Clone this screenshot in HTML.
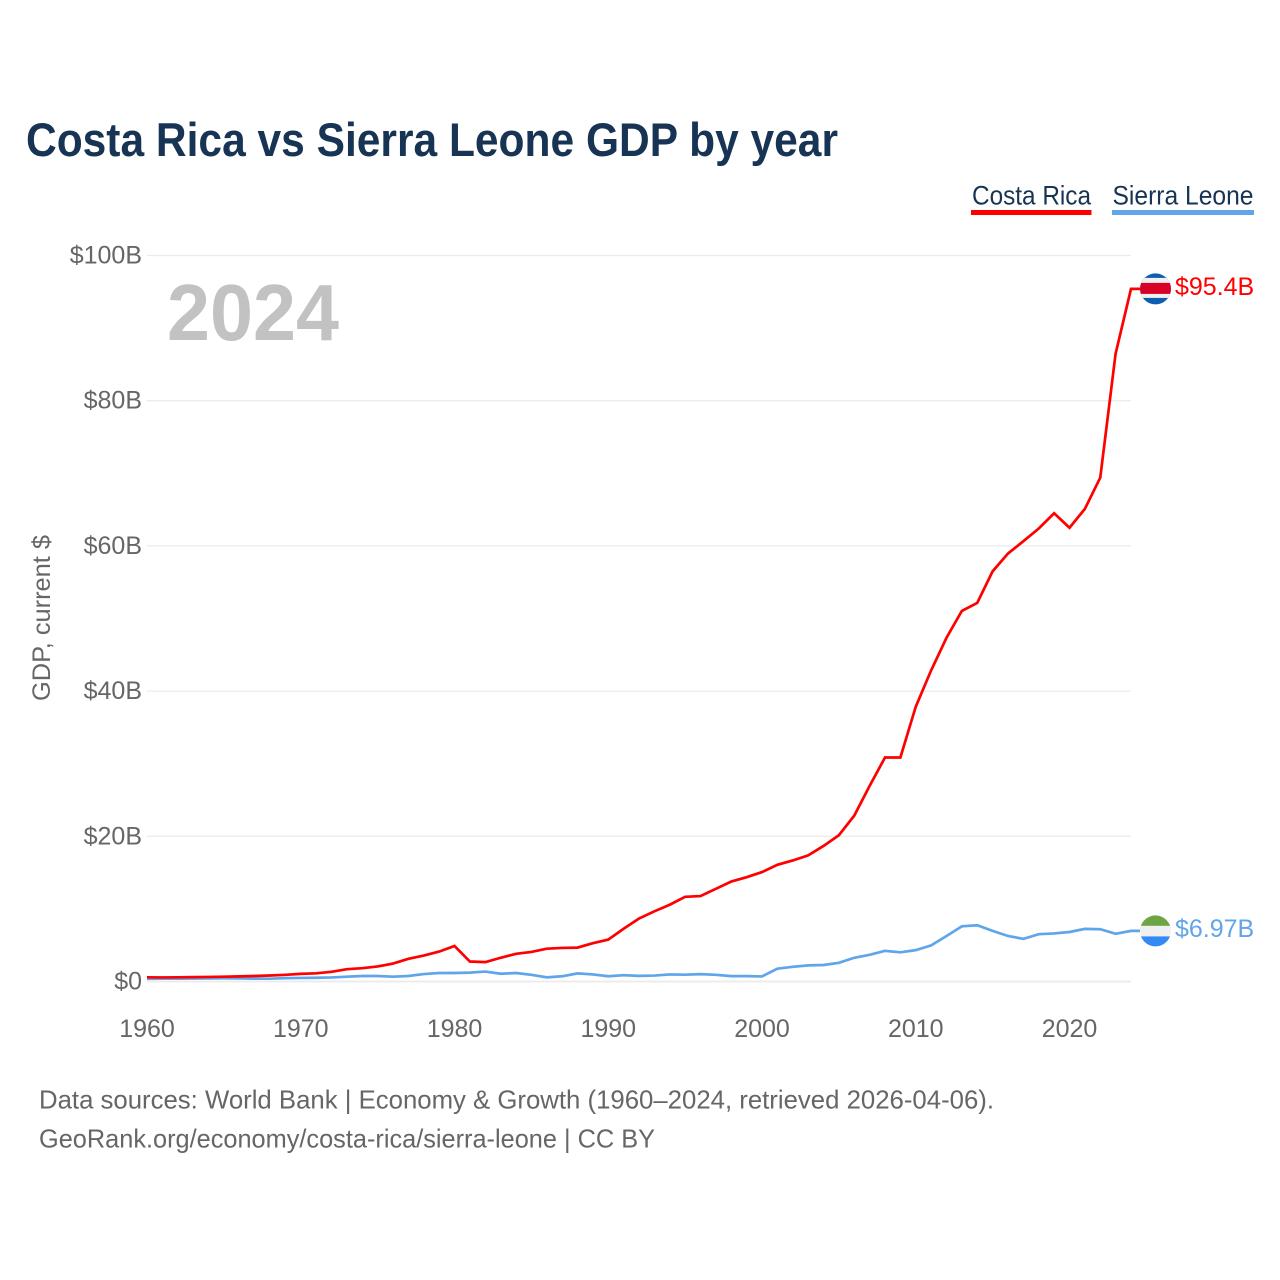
<!DOCTYPE html>
<html lang="en">
<head>
<meta charset="utf-8">
<title>Costa Rica vs Sierra Leone GDP by year</title>
<style>
html,body{margin:0;padding:0;background:#fff;}
svg{display:block;font-family:"Liberation Sans",sans-serif;}
</style>
</head>
<body>
<svg id="chart" width="1280" height="1280" viewBox="0 0 1280 1280" xmlns="http://www.w3.org/2000/svg">
  <defs>
    <clipPath id="flag-clip-cr"><circle cx="0" cy="0" r="15.5"/></clipPath>
    <clipPath id="flag-clip-sl"><circle cx="0" cy="0" r="15.5"/></clipPath>
  </defs>
  <rect x="0" y="0" width="1280" height="1280" fill="#fff"/>
  <text x="26" y="156" font-size="47" font-weight="700" fill="#173454" textLength="812" lengthAdjust="spacingAndGlyphs">Costa Rica vs Sierra Leone GDP by year</text>

  <g>
    <g>
      <text x="972" y="204.5" font-size="27" fill="#173454" textLength="119" lengthAdjust="spacingAndGlyphs">Costa Rica</text>
      <rect x="971" y="210" width="120.5" height="5" fill="#ff0000"/>
    </g>
    <g>
      <text x="1112.5" y="204.5" font-size="27" fill="#173454" textLength="141" lengthAdjust="spacingAndGlyphs">Sierra Leone</text>
      <rect x="1112" y="210" width="142" height="5" fill="#60a5ea"/>
    </g>
  </g>

  <g id="grid"></g>
  <g id="y-axis"></g>
  <g id="x-axis"></g>

  <text x="167" y="340" font-size="80" font-weight="700" fill="#c2c2c2" textLength="172" lengthAdjust="spacingAndGlyphs">2024</text>
  <text transform="translate(50,618) rotate(-90)" text-anchor="middle" font-size="25" fill="#666" textLength="166" lengthAdjust="spacingAndGlyphs">GDP, current $</text>

  <g id="series"></g>

  <g id="flag-cr">
    <g clip-path="url(#flag-clip-cr)">
      <rect x="-16" y="-16" width="32" height="32" fill="#0f5db0"/>
      <rect x="-16" y="-11" width="32" height="20" fill="#f0f0f0"/>
      <rect x="-16" y="-6" width="32" height="11" fill="#d80027"/>
    </g>
  </g>
  <g id="flag-sl">
    <g clip-path="url(#flag-clip-sl)">
      <rect x="-16" y="-16" width="32" height="11" fill="#6da544"/>
      <rect x="-16" y="-5" width="32" height="10.5" fill="#f0f0f0"/>
      <rect x="-16" y="5.5" width="32" height="11" fill="#338af3"/>
    </g>
  </g>
  <text id="value-cr" x="1175" font-size="25" fill="#ff0000"></text>
  <text id="value-sl" x="1175" font-size="25" fill="#60a5ea"></text>

  <g>
    <text x="39" y="1108.5" font-size="26" fill="#666" textLength="955" lengthAdjust="spacingAndGlyphs">Data sources: World Bank | Economy &amp; Growth (1960–2024, retrieved 2026-04-06).</text>
    <text x="39" y="1147.5" font-size="26" fill="#666" textLength="616" lengthAdjust="spacingAndGlyphs">GeoRank.org/economy/costa-rica/sierra-leone | CC BY</text>
  </g>
</svg>
<script>
const firstYear = 1960;
const costaRicaGdp = [0.58,0.56,0.58,0.6,0.63,0.66,0.71,0.76,0.83,0.92,1.05,1.13,1.33,1.7,1.83,2.07,2.47,3.12,3.57,4.12,4.9,2.75,2.67,3.27,3.82,4.07,4.52,4.62,4.67,5.27,5.77,7.27,8.67,9.67,10.57,11.67,11.77,12.77,13.77,14.37,15.07,16.07,16.67,17.37,18.67,20.15,22.85,26.95,30.85,30.85,37.85,42.85,47.35,51.05,52.15,56.5,58.95,60.65,62.4,64.5,62.5,65.1,69.4,86.5,95.4];
const sierraLeoneGdp = [0.38,0.39,0.4,0.41,0.42,0.44,0.42,0.4,0.39,0.46,0.49,0.52,0.56,0.66,0.76,0.76,0.66,0.76,1.02,1.17,1.17,1.22,1.37,1.07,1.17,0.92,0.57,0.72,1.12,0.97,0.72,0.87,0.77,0.82,0.97,0.94,1.02,0.92,0.74,0.74,0.7,1.77,2.02,2.22,2.27,2.57,3.27,3.67,4.22,4.02,4.32,4.97,6.27,7.6,7.75,6.97,6.27,5.87,6.52,6.62,6.82,7.25,7.2,6.57,6.97];
const yTickValues = [0,20,40,60,80,100];
const yTickLabels = ["$0","$20B","$40B","$60B","$80B","$100B"];
const xTickValues = [1960,1970,1980,1990,2000,2010,2020];
const endValueLabels = ["$95.4B","$6.97B"];

const NS = "http://www.w3.org/2000/svg";
const plotLeft = 147, plotRight = 1131, plotTop = 255.5, plotBottom = 981.5;
const lastYear = firstYear + costaRicaGdp.length - 1;
function xScale(year){ return plotLeft + (year - firstYear) * (plotRight - plotLeft) / (lastYear - firstYear); }
function yScale(v){ return plotBottom - v * (plotBottom - plotTop) / 100; }

const grid = document.getElementById("grid");
const yAxis = document.getElementById("y-axis");
const xAxis = document.getElementById("x-axis");
const series = document.getElementById("series");

yTickValues.forEach(function(v, i){
  const line = document.createElementNS(NS, "line");
  
  
  line.setAttribute("x1", plotLeft);
  line.setAttribute("x2", plotRight);
  line.setAttribute("y1", yScale(v));
  line.setAttribute("y2", yScale(v));
  line.setAttribute("stroke", "#ececec");
  line.setAttribute("stroke-width", v === 0 ? 2 : 1.3);
  grid.appendChild(line);

  const t = document.createElementNS(NS, "text");
  
  
  t.setAttribute("x", 142);
  t.setAttribute("y", yScale(v) + 8);
  t.setAttribute("text-anchor", "end");
  t.setAttribute("font-size", 25);
  t.setAttribute("fill", "#666");
  t.textContent = yTickLabels[i];
  yAxis.appendChild(t);
});

xTickValues.forEach(function(year){
  const t = document.createElementNS(NS, "text");
  
  
  t.setAttribute("x", xScale(year));
  t.setAttribute("y", 1037);
  t.setAttribute("text-anchor", "middle");
  t.setAttribute("font-size", 25);
  t.setAttribute("fill", "#666");
  t.textContent = year;
  xAxis.appendChild(t);
});

function linePath(values){
  let d = values.map(function(v, i){
    return (i ? "L" : "M") + xScale(firstYear + i).toFixed(2) + " " + yScale(v).toFixed(2);
  }).join(" ");
  d += " L" + (plotRight + 9) + " " + yScale(values[values.length - 1]).toFixed(2);
  return d;
}

const blueLine = document.createElementNS(NS, "path");


blueLine.setAttribute("d", linePath(sierraLeoneGdp));
blueLine.setAttribute("fill", "none");
blueLine.setAttribute("stroke", "#60a5ea");
blueLine.setAttribute("stroke-width", 2.7);
blueLine.setAttribute("stroke-linejoin", "miter");
series.appendChild(blueLine);

const redLine = document.createElementNS(NS, "path");


redLine.setAttribute("d", linePath(costaRicaGdp));
redLine.setAttribute("fill", "none");
redLine.setAttribute("stroke", "#ff0000");
redLine.setAttribute("stroke-width", 2.7);
redLine.setAttribute("stroke-linejoin", "miter");
series.appendChild(redLine);

const crY = yScale(costaRicaGdp[costaRicaGdp.length - 1]);
const slY = yScale(sierraLeoneGdp[sierraLeoneGdp.length - 1]);
document.getElementById("flag-cr").setAttribute("transform", "translate(1155.5," + crY + ")");
document.getElementById("flag-sl").setAttribute("transform", "translate(1155.5," + slY + ")");
const valueCr = document.getElementById("value-cr");
valueCr.setAttribute("y", crY + 6);
valueCr.textContent = endValueLabels[0];
const valueSl = document.getElementById("value-sl");
valueSl.setAttribute("y", slY + 6);
valueSl.textContent = endValueLabels[1];
</script>
</body>
</html>
